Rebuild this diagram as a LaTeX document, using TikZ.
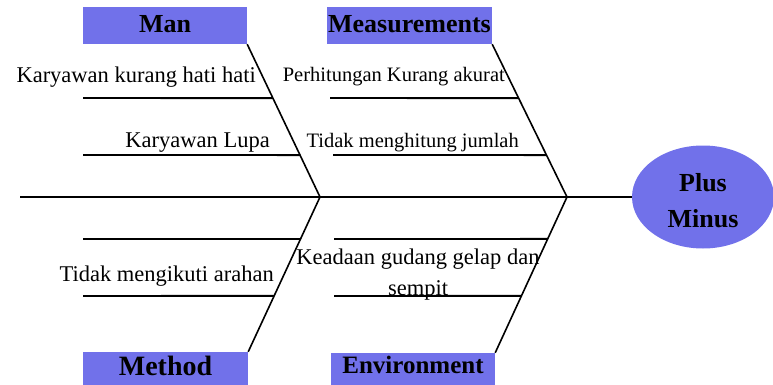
\documentclass[tikz,border=0pt]{standalone}
\usepackage{fontspec}
\setmainfont{Liberation Serif}
\usetikzlibrary{shapes.geometric,calc}
\definecolor{boxblue}{RGB}{113,113,234}
\begin{document}
\begin{tikzpicture}[x=1pt,y=-1pt,
  bone/.style={line width=1.6pt},
  rib/.style={line width=1.9pt},
  headbox/.style={fill=boxblue, draw=none, inner sep=0pt, text height=17pt,
    font=\fontsize{26}{30}\selectfont\bfseries},
  cause/.style={inner sep=0pt, anchor=base east, font=\fontsize{22.5}{30}\selectfont},
  narrowcause/.style={cause, font=\fontsize{20.5}{30}\selectfont}]
\useasboundingbox (0,0) rectangle (773,385);

% category boxes
\node[headbox, minimum width=164pt, minimum height=37pt, text depth=2pt] (man) at (165,25.5) {Man};
\node[headbox, minimum width=165pt, minimum height=37pt, text depth=2pt] (meas) at (409.5,25.5) {Measurements};
\node[headbox, minimum width=165pt, minimum height=33pt, text depth=4pt,
  font=\fontsize{28}{30}\selectfont\bfseries] (method) at (165.5,368.5) {Method};
\node[headbox, minimum width=164pt, minimum height=32pt, text depth=9pt,
  font=\fontsize{25}{30}\selectfont\bfseries] (env) at (413,369) {Environment};

% effect
\node[ellipse, fill=boxblue, inner sep=0pt, minimum width=142pt, minimum height=103pt] (effect) at (703,197) {};
\node[inner sep=0pt, align=center, font=\fontsize{26}{36}\selectfont\bfseries] (effecttext) at (703,201) {Plus\\Minus};

% spine and joints
\coordinate (tail) at (20,197);
\coordinate (j1) at (320,197);
\coordinate (j2) at (567,197);
\draw[bone] (tail) -- (effect.west);

% main bones
\draw[bone] (man.south east) -- (j1);
\draw[bone] (j1) -- (method.north east);
\draw[bone] (meas.south east) -- (j2);
\draw[bone] (j2) -- (env.north east);

% rib end points on the bones
\coordinate (m1) at ($(man.south east)!0.3529!(j1)$);
\coordinate (m2) at ($(man.south east)!0.7255!(j1)$);
\coordinate (s1) at ($(meas.south east)!0.3529!(j2)$);
\coordinate (s2) at ($(meas.south east)!0.7255!(j2)$);
\coordinate (d1) at ($(j1)!0.271!(method.north east)$);
\coordinate (d2) at ($(j1)!0.6387!(method.north east)$);
\coordinate (e1) at ($(j2)!0.2692!(env.north east)$);
\coordinate (e2) at ($(j2)!0.6346!(env.north east)$);

\coordinate (m1s) at (83,98);
\coordinate (m2s) at (83,155);
\coordinate (s1s) at (330,98);
\coordinate (s2s) at (333,155);
\coordinate (d1s) at (83,239);
\coordinate (d2s) at (83,296);
\coordinate (e1s) at (334,239);
\coordinate (e2s) at (334,296);

\draw[rib] (m1s) -- (m1);
\draw[rib] (m2s) -- (m2);
\draw[rib] (s1s) -- (s1);
\draw[rib] (s2s) -- (s2);
\draw[rib] (d1s) -- (d1);
\draw[rib] (d2s) -- (d2);
\draw[rib] (e1s) -- (e1);
\draw[rib] (e2s) -- (e2);

% causes
\node[cause] (c1) at (256,83) {Karyawan kurang hati hati};
\node[cause] (c2) at (270,147) {Karyawan Lupa};
\node[narrowcause] (c3) at (505,82) {Perhitungan Kurang akurat};
\node[narrowcause] (c4) at (519,147) {Tidak menghitung jumlah};
\node[cause] (c5) at (274,281) {Tidak mengikuti arahan};
\node[cause, anchor=base] (c6) at (418,264) {Keadaan gudang gelap dan};
\node[cause, anchor=base] (c7) at (418,295) {sempit};
\end{tikzpicture}
\end{document}
